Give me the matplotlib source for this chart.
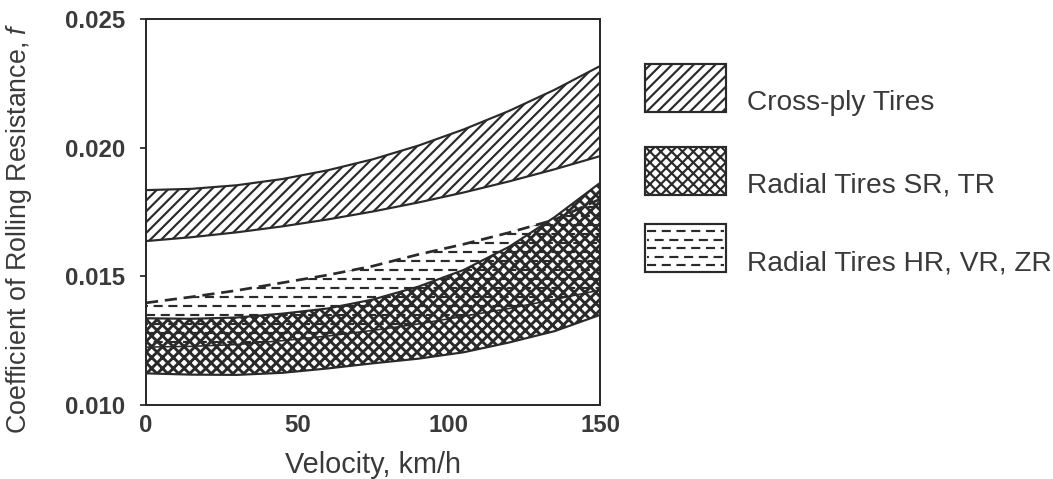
import numpy as np
import matplotlib.pyplot as plt
from matplotlib.patches import Rectangle

plt.rcParams['font.family'] = ['Liberation Sans', 'DejaVu Sans']
plt.rcParams['mathtext.fontset'] = 'custom'
plt.rcParams['mathtext.it'] = 'Liberation Sans:italic'
plt.rcParams['hatch.linewidth'] = 1.2

ink = '#2a2a2a'
txt = '#3a3a3a'

# velocity, km/h
v = np.array([0, 15, 30, 45, 60, 75, 90, 105, 120, 135, 150])

# Cross-ply tires band
cross_hi = np.array([0.01835, 0.01840, 0.01854, 0.01878, 0.01912, 0.01955, 0.02008, 0.02071, 0.02143, 0.02225, 0.02317])
cross_lo = np.array([0.01637, 0.01652, 0.01671, 0.01694, 0.01721, 0.01752, 0.01787, 0.01826, 0.01869, 0.01916, 0.01967])

# Radial SR, TR band
sr_hi = np.array([0.01337, 0.01335, 0.01340, 0.01355, 0.01375, 0.01410, 0.01460, 0.01525, 0.01615, 0.01730, 0.01863])
sr_lo = np.array([0.01123, 0.01118, 0.01117, 0.01125, 0.01142, 0.01162, 0.01180, 0.01205, 0.01243, 0.01287, 0.01350])

# Radial HR, VR, ZR band
hr_hi = np.array([0.01397, 0.01420, 0.01445, 0.01475, 0.01505, 0.01540, 0.01585, 0.01625, 0.01670, 0.01720, 0.01800])
hr_lo = np.array([0.01225, 0.01228, 0.01235, 0.01250, 0.01268, 0.01290, 0.01315, 0.01345, 0.01375, 0.01410, 0.01447])

labels = ['Cross-ply Tires', 'Radial Tires SR, TR', 'Radial Tires HR, VR, ZR']

fig = plt.figure(figsize=(1053 / 130, 479 / 130), dpi=130)
ax = fig.add_axes([146 / 1053, 1 - 405 / 479, 454 / 1053, 386 / 479])

# cross-ply
ax.fill_between(v, cross_lo, cross_hi, facecolor='none', edgecolor=ink, hatch='////', linewidth=0)
ax.plot(v, cross_hi, color=ink, lw=1.2)
ax.plot(v, cross_lo, color=ink, lw=1.2)

# HR, VR, ZR: horizontal dashed hatch
hr_poly = ax.fill_between(v, hr_lo, hr_hi, facecolor='none', edgecolor='none')
clip = hr_poly.get_paths()[0]
rows = np.arange(0.0100, 0.0200, 0.00035)
for k, off in enumerate([0, 3.3]):
    hl = ax.hlines(rows[k::2], 0, 150, colors=ink, lw=1.2, linestyles=[(off, (4.2, 2.6))])
    hl.set_clip_path(clip, ax.transData)
ax.plot(v, hr_hi, color=ink, lw=1.5, ls=(0, (4.5, 2.5)))
ax.plot(v, hr_lo, color=ink, lw=0.9)

# SR, TR: cross hatch, heavier lines
with plt.rc_context({'hatch.linewidth': 1.6}):
    ax.fill_between(v, sr_lo, sr_hi, facecolor='none', edgecolor=ink, hatch='xxxx', linewidth=0)
ax.plot(v, sr_hi, color=ink, lw=1.2)
ax.plot(v, sr_lo, color=ink, lw=1.2)

ax.set_xlim(0, 150)
ax.set_ylim(0.010, 0.025)
ax.set_xticks([0, 50, 100, 150])
ax.set_yticks([0.010, 0.015, 0.020, 0.025])
ax.set_yticklabels(['0.010', '0.015', '0.020', '0.025'])
ax.tick_params(axis='x', length=0, pad=5, labelsize=13.3, labelcolor=txt)
ax.tick_params(axis='y', direction='out', length=3.5, width=1, color=ink, pad=8, labelsize=13.3, labelcolor=txt)
for t in ax.get_xticklabels() + ax.get_yticklabels():
    t.set_fontweight('bold')
for s in ax.spines.values():
    s.set_linewidth(1.1)
    s.set_color(ink)

ax.set_xlabel('Velocity, km/h', fontsize=16, color=txt, labelpad=8)
ax.set_ylabel(r'Coefficient of Rolling Resistance, $\mathit{f}$', fontsize=14.8, color=txt)
ax.yaxis.set_label_coords(-0.247, 0.4585)

# legend drawn in pixel coordinates
lg = fig.add_axes([0, 0, 1, 1], facecolor='none')
lg.set_xlim(0, 1053)
lg.set_ylim(479, 0)
lg.axis('off')
tops = [64, 147, 224]
hatches = ['////', 'xxxx', None]
for top, h, lab in zip(tops, hatches, labels):
    r = Rectangle((645, top), 81, 48, facecolor='white', edgecolor=ink, lw=1.2, hatch=h)
    lg.add_patch(r)
    if h is None:
        ys = np.arange(top + 7, top + 48, 8.5)
        for k, off in enumerate([0, 3.3]):
            hl = lg.hlines(ys[k::2], 647, 724, colors=ink, lw=1.2, linestyles=[(off, (4.2, 2.6))])
            hl.set_clip_path(r)
    lg.text(747, top + 46, lab, fontsize=15.6, color=txt, va='baseline', ha='left')

fig.savefig('out.png', dpi=130, facecolor='white')
